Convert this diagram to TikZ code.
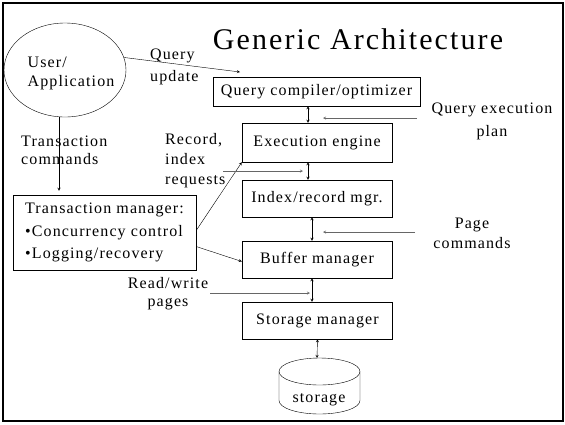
\documentclass[tikz,border=0pt]{standalone}
\usepackage{fontspec}
\setmainfont{Liberation Serif}[LetterSpace=7]
\usetikzlibrary{shapes.geometric}

\begin{document}
\begin{tikzpicture}[x=1pt, y=-1pt,
    box/.style={draw, rectangle, minimum width=150pt, minimum height=37pt, align=center, font=\fontsize{16}{19}\selectfont},
    lbl/.style={inner sep=0pt, font=\fontsize{16}{20}\selectfont},
    arrow/.style={->, >=stealth},
    dbl/.style={<->, >=stealth},
    feed/.style={->, >=stealth, black!60},
]
\useasboundingbox (0,0) rectangle (565,424);
\draw[line width=2.5pt] (3,3) rectangle (563,421);

\node[font=\fontsize{30}{34}\selectfont] (title) at (358,39) {Generic Architecture};

% User
\node[draw, ellipse, minimum width=122pt, minimum height=94pt] (user) at (65,70) {};
\node[lbl, align=left, font=\fontsize{16}{19}\selectfont] (usertxt) at (71,73) {User/\\Application};

% Stack of components
\node[box, minimum width=207pt, minimum height=29pt] (qco) at (316.5,91.5) {Query compiler/optimizer};
\node[box, minimum height=39pt] (exe) at (317,142.5) {Execution engine};
\node[box] (idx) at (317,198.5) {Index/record mgr.};
\node[box] (buf) at (317,259.5) {Buffer manager};
\node[box] (sto) at (317.5,320.5) {Storage manager};
\node[box, minimum width=183pt, minimum height=75pt, align=left, inner xsep=6pt, font=\fontsize{16}{22.5}\selectfont] (tm) at (104.5,232.5)
  {Transaction manager:\\\textbullet Concurrency control\\\textbullet Logging/recovery};

% Storage
\draw (319.5,371.5) ellipse [x radius=40.5pt, y radius=13.5pt];
\draw (279,371.5) -- (279,400.5) arc [start angle=180, end angle=360, x radius=40.5pt, y radius=13.5pt] -- (360,371.5);
\node[lbl] (disk) at (319,400) {storage};
\coordinate (disktop) at (317,358);

% Labels
\node[lbl, align=left, anchor=west, font=\fontsize{16}{22.5}\selectfont] (qlbl) at (150,67) {Query\\update};
\node[lbl, align=center, font=\fontsize{16}{23}\selectfont] (plbl) at (492,121) {Query execution\\plan};
\node[lbl, align=left, anchor=west] (rlbl) at (165,161) {Record,\\index\\requests};
\node[lbl, align=left, anchor=west, font=\fontsize{16}{18}\selectfont] (tclbl) at (21,150) {Transaction\\commands};
\node[lbl, align=center] (pglbl) at (472,233) {Page\\commands};
\node[lbl, align=center, font=\fontsize{16}{18}\selectfont] (rwlbl) at (168,294) {Read/write\\pages};

\coordinate (qin) at (240,72);
\coordinate (planR) at (417,118);
\coordinate (planL) at (323,118);
\coordinate (recL) at (223,171);
\coordinate (recR) at (303,171);
\coordinate (pageR) at (415,232);
\coordinate (pageL) at (323,232);
\coordinate (rwL) at (210,293);
\coordinate (rwR) at (310,293);

% Connections
\draw[arrow] (user.12) -- (qin);
\draw[arrow, shorten >=4pt] ([xshift=-6pt]user.south) -- ([xshift=-6pt]user.south |- tm.north);
\draw[arrow] ([yshift=2pt]tm.east) -- (exe.south west);
\draw[arrow] ([yshift=-14pt]tm.east) -- ([yshift=-2pt]buf.west);
\draw[dbl] ([xshift=-8.5pt]qco.south) -- ([xshift=-8.5pt]qco.south |- exe.north);
\draw[dbl] ([xshift=-9pt]exe.south) -- ([xshift=-9pt]idx.north);
\draw[dbl] ([xshift=-5pt]idx.south) -- ([xshift=-5pt]buf.north);
\draw[dbl] ([xshift=-5pt]buf.south) -- ([xshift=-5.5pt]sto.north);
\draw[dbl] (sto.south) -- (disktop);
\draw[feed] (planR) -- (planL);
\draw[feed] (recL) -- (recR);
\draw[feed] (pageR) -- (pageL);
\draw[feed] (rwL) -- (rwR);
\end{tikzpicture}
\end{document}
